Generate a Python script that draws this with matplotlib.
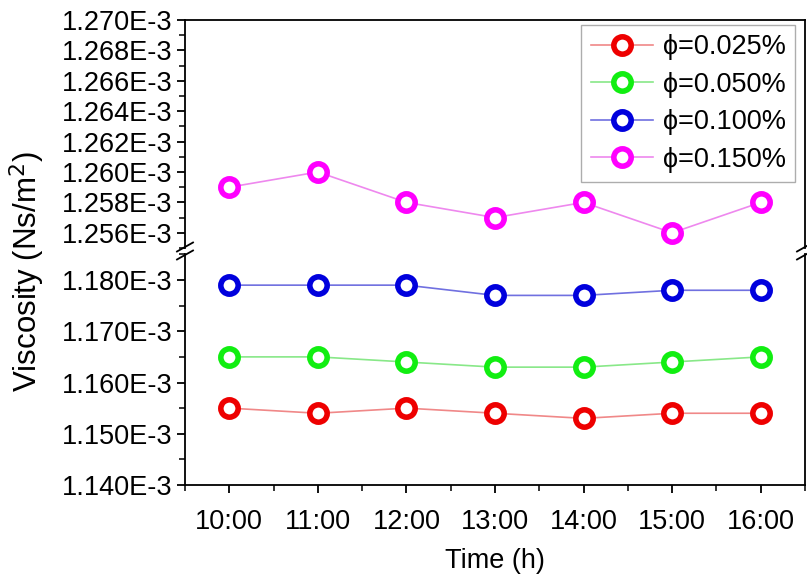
import numpy as np
import matplotlib.pyplot as plt
from matplotlib.lines import Line2D
from matplotlib.ticker import FuncFormatter, MultipleLocator

plt.rcParams['font.family'] = ['Liberation Sans', 'DejaVu Sans']

# -----------------------------
# Dados de viscosidade (Ns/m^2)
# -----------------------------
horas = ['10:00', '11:00', '12:00', '13:00', '14:00', '15:00', '16:00']
visc_0025 = [1.155e-3, 1.154e-3, 1.155e-3, 1.154e-3, 1.153e-3, 1.154e-3, 1.154e-3]
visc_0050 = [1.165e-3, 1.165e-3, 1.164e-3, 1.163e-3, 1.163e-3, 1.164e-3, 1.165e-3]
visc_0100 = [1.179e-3, 1.179e-3, 1.179e-3, 1.177e-3, 1.177e-3, 1.178e-3, 1.178e-3]
visc_0150 = [1.259e-3, 1.260e-3, 1.258e-3, 1.257e-3, 1.258e-3, 1.256e-3, 1.258e-3]
rotulos = ['\u03d5=0.025%', '\u03d5=0.050%', '\u03d5=0.100%', '\u03d5=0.150%']

series = [visc_0025, visc_0050, visc_0100, visc_0150]
cores_marcador = ['#ee0000', '#11ee11', '#0000dd', '#ff00ff']
cores_linha = ['#f08888', '#88e888', '#7070e0', '#ee88ee']

W, H = 807, 575
fs = 19.5
fig = plt.figure(figsize=(W / 100, H / 100), dpi=100)

# eixo com quebra: parte superior e inferior
x0, x1 = 185, 805
sup_top, sup_bot = 20, 248
inf_top, inf_bot = 254.4, 485
ax_sup = fig.add_axes([x0 / W, 1 - sup_bot / H, (x1 - x0) / W, (sup_bot - sup_top) / H])
ax_inf = fig.add_axes([x0 / W, 1 - inf_bot / H, (x1 - x0) / W, (inf_bot - inf_top) / H],
                      sharex=ax_sup)

x = np.arange(len(horas))
for ax in (ax_sup, ax_inf):
    for vals, cm, cl, rot in zip(series, cores_marcador, cores_linha, rotulos):
        ax.plot(x, vals, '-o', color=cl, lw=1.2, ms=12.5, mew=4,
                mec=cm, mfc='white', label=rot)
    for s in ax.spines.values():
        s.set_linewidth(1.3)
    ax.tick_params(axis='y', which='major', length=6, width=1.3, labelsize=fs,
                   direction='out', right=False, pad=3)
    ax.tick_params(axis='y', which='minor', length=4, width=1.1, right=False)

fmt = FuncFormatter(lambda v, p: f'{v * 1e3:.3f}E-3')

ax_sup.set_ylim(1.255e-3, 1.270e-3)
ax_sup.yaxis.set_major_locator(MultipleLocator(0.002e-3))
ax_sup.yaxis.set_minor_locator(MultipleLocator(0.001e-3))
ax_sup.yaxis.set_major_formatter(fmt)
ax_sup.spines['bottom'].set_visible(False)
ax_sup.tick_params(axis='x', which='both', bottom=False, top=False, labelbottom=False)

ax_inf.set_ylim(1.140e-3, 1.185e-3)
ax_inf.yaxis.set_major_locator(MultipleLocator(0.010e-3))
ax_inf.yaxis.set_minor_locator(MultipleLocator(0.005e-3))
ax_inf.yaxis.set_major_formatter(fmt)
ax_inf.spines['top'].set_visible(False)

ax_inf.set_xlim(-0.5, 6.5)
ax_inf.set_xticks(x)
ax_inf.set_xticklabels(horas)
ax_inf.xaxis.set_minor_locator(MultipleLocator(0.5))
ax_inf.tick_params(axis='x', which='major', length=6, width=1.3, labelsize=fs, pad=11)
ax_inf.tick_params(axis='x', which='minor', length=4, width=1.1)

ax_inf.set_xlabel('Time (h)', fontsize=fs, labelpad=10)
fig.text(27 / W, 1 - 272 / H, 'Viscosity (Ns/m$^2$)', rotation=90, fontsize=22.5,
         ha='center', va='center')

# marcas de quebra nas duas laterais
yq = 251
for xc in (x0, x1):
    for dy in (-4, 4):
        fig.add_artist(Line2D([(xc - 8) / W, (xc + 8) / W],
                              [1 - (yq + dy + 4.5) / H, 1 - (yq + dy - 4.5) / H],
                              color='black', lw=1.3))

leg = ax_sup.legend(loc='upper right', bbox_to_anchor=(0.984, 0.978), fontsize=fs,
                    frameon=True, fancybox=False, edgecolor='#999999',
                    handlelength=2.3, handletextpad=0.35, labelspacing=0.42,
                    borderpad=0.35, borderaxespad=0)
leg.get_frame().set_linewidth(1.0)

fig.savefig('out.png', dpi=100)
